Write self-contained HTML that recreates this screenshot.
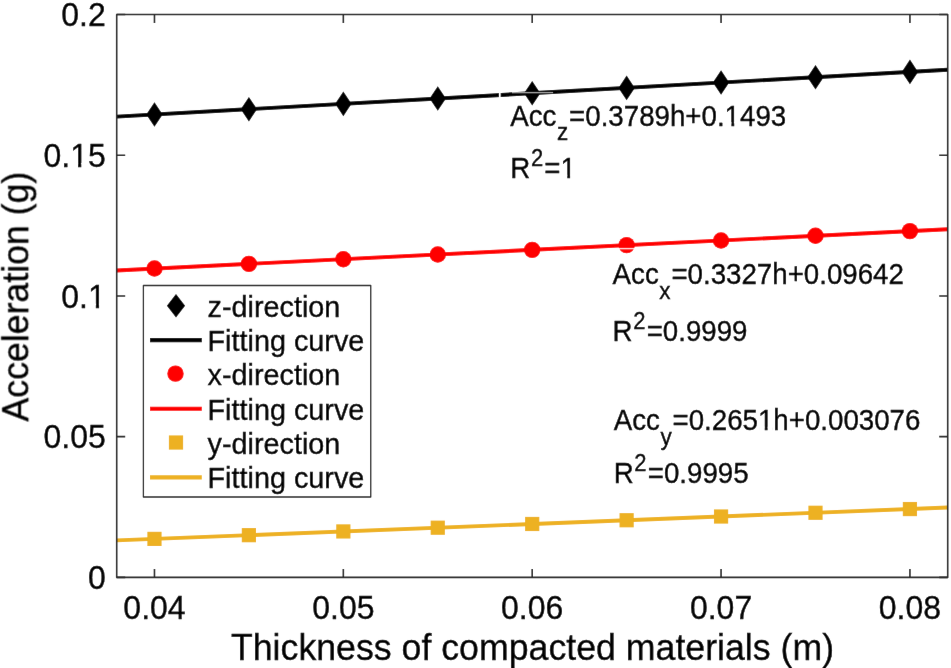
<!DOCTYPE html><html><head><meta charset="utf-8"><style>html,body{margin:0;padding:0;background:#fff;overflow:hidden}svg{display:block}</style></head><body>
<div id="w"><svg width="951" height="668" viewBox="0 0 951 668">
<defs><filter id="bl" x="0" y="0" width="951" height="668" filterUnits="userSpaceOnUse"><feConvolveMatrix order="3" kernelMatrix="0.00087 0.02776 0.00087 0.02776 0.88549 0.02776 0.00087 0.02776 0.00087" edgeMode="duplicate"/></filter></defs><g filter="url(#bl)">
<rect width="951" height="668" fill="#fff"/>
<line x1="116.70" y1="116.67" x2="947.70" y2="69.75" stroke="#000" stroke-width="3.9"/>
<line x1="116.70" y1="270.44" x2="947.70" y2="229.24" stroke="#f00" stroke-width="3.9"/>
<line x1="116.70" y1="540.39" x2="947.70" y2="507.56" stroke="#EDB120" stroke-width="3.9"/>
<path d="M154.47 102.24L162.67 114.54L154.47 126.84L146.27 114.54Z" fill="#000"/>
<path d="M248.90 96.91L257.10 109.21L248.90 121.51L240.70 109.21Z" fill="#000"/>
<path d="M343.34 91.57L351.54 103.87L343.34 116.17L335.14 103.87Z" fill="#000"/>
<path d="M437.77 86.24L445.97 98.54L437.77 110.84L429.57 98.54Z" fill="#000"/>
<path d="M532.20 80.91L540.40 93.21L532.20 105.51L524.00 93.21Z" fill="#000"/>
<path d="M626.63 75.58L634.83 87.88L626.63 100.18L618.43 87.88Z" fill="#000"/>
<path d="M721.06 70.25L729.26 82.55L721.06 94.85L712.86 82.55Z" fill="#000"/>
<path d="M815.50 64.91L823.70 77.21L815.50 89.51L807.30 77.21Z" fill="#000"/>
<path d="M909.93 59.58L918.13 71.88L909.93 84.18L901.73 71.88Z" fill="#000"/>
<circle cx="154.47" cy="268.57" r="8.2" fill="#f00"/>
<circle cx="248.90" cy="263.89" r="8.2" fill="#f00"/>
<circle cx="343.34" cy="259.21" r="8.2" fill="#f00"/>
<circle cx="437.77" cy="254.52" r="8.2" fill="#f00"/>
<circle cx="532.20" cy="249.84" r="8.2" fill="#f00"/>
<circle cx="626.63" cy="245.16" r="8.2" fill="#f00"/>
<circle cx="721.06" cy="240.48" r="8.2" fill="#f00"/>
<circle cx="815.50" cy="235.80" r="8.2" fill="#f00"/>
<circle cx="909.93" cy="231.12" r="8.2" fill="#f00"/>
<rect x="147.37" y="531.80" width="14.2" height="14.2" fill="#EDB120"/>
<rect x="241.80" y="528.07" width="14.2" height="14.2" fill="#EDB120"/>
<rect x="336.24" y="524.34" width="14.2" height="14.2" fill="#EDB120"/>
<rect x="430.67" y="520.61" width="14.2" height="14.2" fill="#EDB120"/>
<rect x="525.10" y="516.88" width="14.2" height="14.2" fill="#EDB120"/>
<rect x="619.53" y="513.14" width="14.2" height="14.2" fill="#EDB120"/>
<rect x="713.96" y="509.41" width="14.2" height="14.2" fill="#EDB120"/>
<rect x="808.40" y="505.68" width="14.2" height="14.2" fill="#EDB120"/>
<rect x="902.83" y="501.95" width="14.2" height="14.2" fill="#EDB120"/>
<path d="M499.8 86V100" stroke="#fff" stroke-width="1.8"/>
<path d="M512 92.8H553" stroke="#fff" stroke-opacity="0.8" stroke-width="1.1"/>
<path d="M617.63 248.7H635.63" stroke="#fff" stroke-opacity="0.85" stroke-width="1.3"/>
<path d="M116.7 14.5H947.7V577.4H116.7Z" fill="none" stroke="#262626" stroke-width="1.6" stroke-linejoin="round"/>
<path d="M154.47 577.4v-8.5M154.47 14.5v8.5M343.34 577.4v-8.5M343.34 14.5v8.5M532.20 577.4v-8.5M532.20 14.5v8.5M721.06 577.4v-8.5M721.06 14.5v8.5M909.93 577.4v-8.5M909.93 14.5v8.5M116.7 577.40h8.5M947.7 577.40h-8.5M116.7 436.67h8.5M947.7 436.67h-8.5M116.7 295.95h8.5M947.7 295.95h-8.5M116.7 155.22h8.5M947.7 155.22h-8.5M116.7 14.50h8.5M947.7 14.50h-8.5" stroke="#262626" stroke-width="1.6" fill="none"/>
<text transform="translate(154.47 618.50) scale(1 1.06)" font-family="Liberation Sans" font-size="32" text-anchor="middle" fill="#000" stroke="#000" stroke-width="0.35">0.04</text>
<text transform="translate(343.34 618.50) scale(1 1.06)" font-family="Liberation Sans" font-size="32" text-anchor="middle" fill="#000" stroke="#000" stroke-width="0.35">0.05</text>
<text transform="translate(532.20 618.50) scale(1 1.06)" font-family="Liberation Sans" font-size="32" text-anchor="middle" fill="#000" stroke="#000" stroke-width="0.35">0.06</text>
<text transform="translate(721.06 618.50) scale(1 1.06)" font-family="Liberation Sans" font-size="32" text-anchor="middle" fill="#000" stroke="#000" stroke-width="0.35">0.07</text>
<text transform="translate(909.93 618.50) scale(1 1.06)" font-family="Liberation Sans" font-size="32" text-anchor="middle" fill="#000" stroke="#000" stroke-width="0.35">0.08</text>
<text transform="translate(105.80 589.20) scale(1 1.06)" font-family="Liberation Sans" font-size="32" text-anchor="end" fill="#000" stroke="#000" stroke-width="0.35">0</text>
<text transform="translate(105.80 448.47) scale(1 1.06)" font-family="Liberation Sans" font-size="32" text-anchor="end" fill="#000" stroke="#000" stroke-width="0.35">0.05</text>
<text transform="translate(105.80 307.75) scale(1 1.06)" font-family="Liberation Sans" font-size="32" text-anchor="end" fill="#000" stroke="#000" stroke-width="0.35">0.1</text>
<text transform="translate(105.80 167.02) scale(1 1.06)" font-family="Liberation Sans" font-size="32" text-anchor="end" fill="#000" stroke="#000" stroke-width="0.35">0.15</text>
<text transform="translate(105.80 26.30) scale(1 1.06)" font-family="Liberation Sans" font-size="32" text-anchor="end" fill="#000" stroke="#000" stroke-width="0.35">0.2</text>
<text transform="translate(532.50 660.30) scale(1 1.035)" font-family="Liberation Sans" font-size="35.7" text-anchor="middle" fill="#000" stroke="#000" stroke-width="0.35">Thickness of compacted materials (m)</text>
<text transform="translate(28.60 296.60) rotate(-90) scale(1 1.04)" font-family="Liberation Sans" font-size="35.7" text-anchor="middle" fill="#000" stroke="#000" stroke-width="0.35">Acceleration (g)</text>
<text transform="translate(510.30 125.60) scale(1 1.06)" font-family="Liberation Sans" font-size="27.7" fill="#000" stroke="#000" stroke-width="0.35">Acc<tspan font-size="22.5" dx="0.6" dy="13.8">z</tspan><tspan dx="0.8" dy="-13.8">=0.3789h+0.1493</tspan></text><text transform="translate(510.30 178.40) scale(1 1.06)" font-family="Liberation Sans" font-size="27.7" fill="#000" stroke="#000" stroke-width="0.35">R<tspan font-size="22" dx="0.6" dy="-11.4">2</tspan><tspan dx="1.2" dy="11.4">=1</tspan></text>
<text transform="translate(612.60 284.40) scale(1 1.06)" font-family="Liberation Sans" font-size="27.7" fill="#000" stroke="#000" stroke-width="0.35">Acc<tspan font-size="22.5" dx="0.6" dy="13.8">x</tspan><tspan dx="0.8" dy="-13.8">=0.3327h+0.09642</tspan></text><text transform="translate(612.60 340.60) scale(1 1.06)" font-family="Liberation Sans" font-size="27.7" fill="#000" stroke="#000" stroke-width="0.35">R<tspan font-size="22" dx="0.6" dy="-11.4">2</tspan><tspan dx="1.2" dy="11.4">=0.9999</tspan></text>
<text transform="translate(613.70 430.30) scale(1 1.06)" font-family="Liberation Sans" font-size="27.7" fill="#000" stroke="#000" stroke-width="0.35">Acc<tspan font-size="22.5" dx="0.6" dy="13.8">y</tspan><tspan dx="0.8" dy="-13.8">=0.2651h+0.003076</tspan></text><text transform="translate(613.70 482.60) scale(1 1.06)" font-family="Liberation Sans" font-size="27.7" fill="#000" stroke="#000" stroke-width="0.35">R<tspan font-size="22" dx="0.6" dy="-11.4">2</tspan><tspan dx="1.2" dy="11.4">=0.9995</tspan></text>
<g transform="translate(105.80 307.75) scale(1 1.06)" fill="#fff"><rect x="-16.22" y="-3.84" width="6.24" height="5.76"/><rect x="-6.71" y="-3.84" width="6.08" height="5.76"/></g>
<g transform="translate(105.80 167.02) scale(1 1.06)" fill="#fff"><rect x="-34.00" y="-3.84" width="6.24" height="5.76"/><rect x="-24.50" y="-3.84" width="6.08" height="5.76"/></g>
<g transform="translate(510.30 125.60) scale(1 1.06)" fill="#fff"><rect x="215.71" y="-3.32" width="5.40" height="4.99"/><rect x="223.94" y="-3.32" width="5.26" height="4.99"/></g>
<g transform="translate(510.30 178.40) scale(1 1.06)" fill="#fff"><rect x="51.59" y="-3.32" width="5.40" height="4.99"/><rect x="59.81" y="-3.32" width="5.26" height="4.99"/></g>
<g transform="translate(613.70 430.30) scale(1 1.06)" fill="#fff"><rect x="145.64" y="-3.32" width="5.40" height="4.99"/><rect x="153.87" y="-3.32" width="5.26" height="4.99"/></g>
<rect x="143.4" y="285.5" width="227.35" height="211.5" fill="#fff" stroke="#262626" stroke-width="1.3" stroke-linejoin="round"/>
<path d="M176 294.00L185.1 305.80L176 317.60L166.9 305.80Z" fill="#000"/>
<circle cx="175.5" cy="373.66" r="8.2" fill="#f00"/>
<rect x="168.90" y="435.42" width="14.2" height="14.2" fill="#EDB120"/>
<line x1="150" y1="340.18" x2="201.8" y2="340.18" stroke="#000" stroke-width="4.2"/>
<line x1="150" y1="408.74" x2="201.8" y2="408.74" stroke="#f00" stroke-width="4.2"/>
<line x1="150" y1="477.30" x2="201.8" y2="477.30" stroke="#EDB120" stroke-width="4.2"/>
<text transform="translate(207.50 316.70) scale(1 1.0)" font-family="Liberation Sans" font-size="28.8" fill="#000" stroke="#000" stroke-width="0.35">z-direction</text>
<text transform="translate(207.50 350.98) scale(1 1.0)" font-family="Liberation Sans" font-size="28.8" fill="#000" stroke="#000" stroke-width="0.35">Fitting curve</text>
<text transform="translate(207.50 385.26) scale(1 1.0)" font-family="Liberation Sans" font-size="28.8" fill="#000" stroke="#000" stroke-width="0.35">x-direction</text>
<text transform="translate(207.50 419.54) scale(1 1.0)" font-family="Liberation Sans" font-size="28.8" fill="#000" stroke="#000" stroke-width="0.35">Fitting curve</text>
<text transform="translate(207.50 453.82) scale(1 1.0)" font-family="Liberation Sans" font-size="28.8" fill="#000" stroke="#000" stroke-width="0.35">y-direction</text>
<text transform="translate(207.50 488.10) scale(1 1.0)" font-family="Liberation Sans" font-size="28.8" fill="#000" stroke="#000" stroke-width="0.35">Fitting curve</text>
</g></svg></div></body></html>
